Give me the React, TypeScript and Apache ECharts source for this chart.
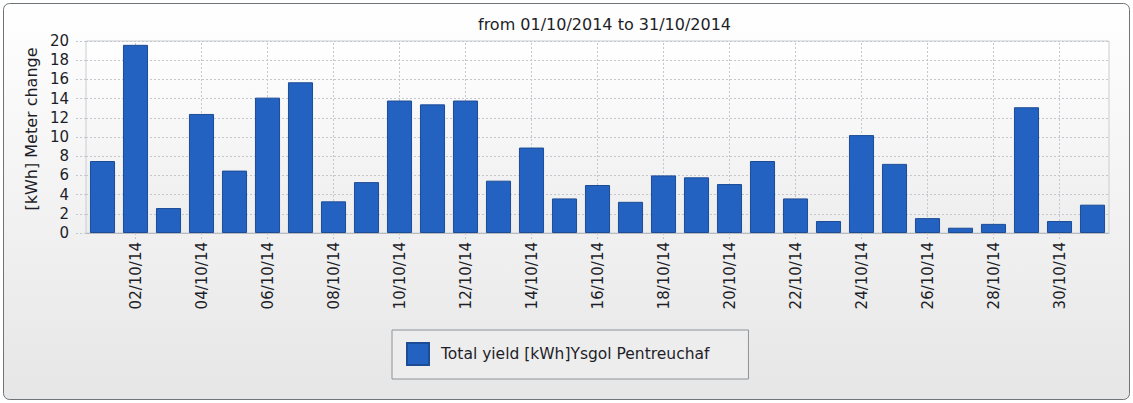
import React, { useEffect, useRef } from "react";
import * as echarts from "echarts";

const titleText = "from 01/10/2014 to 31/10/2014";
const seriesName = "Total yield [kWh]Ysgol Pentreuchaf";
const yAxisName = "[kWh] Meter change";

const categories = [
  "01/10/14", "02/10/14", "03/10/14", "04/10/14", "05/10/14", "06/10/14", "07/10/14", "08/10/14",
  "09/10/14", "10/10/14", "11/10/14", "12/10/14", "13/10/14", "14/10/14", "15/10/14", "16/10/14",
  "17/10/14", "18/10/14", "19/10/14", "20/10/14", "21/10/14", "22/10/14", "23/10/14", "24/10/14",
  "25/10/14", "26/10/14", "27/10/14", "28/10/14", "29/10/14", "30/10/14", "31/10/14",
];

const values = [
  7.5, 19.6, 2.6, 12.4, 6.5, 14.1, 15.7, 3.3,
  5.3, 13.8, 13.4, 13.8, 5.45, 8.9, 3.6, 5.0,
  3.25, 6.0, 5.8, 5.1, 7.5, 3.6, 1.25, 10.2,
  7.2, 1.55, 0.55, 0.95, 13.1, 1.25, 2.95,
];

const yMin = 0;
const yMax = 20;
const yInterval = 2;

const FONT = "DejaVu Sans";
const TEXT = "#1e1e28";
const GRID = "#c4c8cc";

const everyOther = (i: number) => i % 2 === 1;
const labelledCategories = categories.filter((_, i) => everyOther(i));

export default function App() {
  const ref = useRef<HTMLDivElement>(null);

  useEffect(() => {
    document.body.style.margin = "0";
    if (!ref.current) return;
    const chart = echarts.init(ref.current, null, { renderer: "svg" });
    chart.setOption({
      animation: false,
      backgroundColor: "transparent",
      graphic: [
        {
          type: "rect",
          z: -10,
          silent: true,
          shape: { x: 3.5, y: 3.5, width: 1126, height: 396, r: 6 },
          style: {
            fill: new echarts.graphic.LinearGradient(0, 0, 0, 1, [
              { offset: 0, color: "#ffffff" },
              { offset: 1, color: "#e6e6e6" },
            ]),
            stroke: "#6f7478",
            lineWidth: 1,
          },
        },
      ],
      title: {
        text: titleText,
        left: 478,
        top: 16,
        padding: 0,
        textStyle: { fontFamily: FONT, fontSize: 16, fontWeight: "normal", color: TEXT },
      },
      legend: {
        left: 392,
        top: 330,
        orient: "horizontal",
        padding: [12, 39, 13, 14],
        borderColor: "#8c949a",
        borderWidth: 1,
        backgroundColor: "#ededed",
        itemWidth: 22,
        itemHeight: 22,
        icon: "rect",
        textStyle: { fontFamily: FONT, fontSize: 15.5, color: TEXT, padding: [0, 0, 0, 7] },
        data: [seriesName],
      },
      grid: {
        left: 86,
        top: 41,
        right: 24,
        bottom: 170,
        show: true,
        backgroundColor: new echarts.graphic.LinearGradient(0, 0, 0, 1, [
          { offset: 0, color: "#ffffff" },
          { offset: 1, color: "#ededed" },
        ]),
        borderColor: "#c8ccd0",
        borderWidth: 1,
      },
      xAxis: {
        type: "category",
        data: categories,
        boundaryGap: true,
        axisLine: { show: true, lineStyle: { color: "#b8bcc0" } },
        axisTick: {
          show: true,
          alignWithLabel: true,
          interval: everyOther,
          length: 7,
          lineStyle: { color: GRID, type: [2, 2] },
        },
        splitLine: { show: false },
        axisLabel: {
          interval: everyOther,
          rotate: 90,
          margin: 9,
          fontFamily: FONT,
          fontSize: 15,
          color: TEXT,
        },
      },
      yAxis: {
        type: "value",
        min: yMin,
        max: yMax,
        interval: yInterval,
        name: yAxisName,
        nameLocation: "middle",
        nameGap: 45,
        nameTextStyle: { fontFamily: FONT, fontSize: 16, color: TEXT, padding: [0, 0, 0, 16] },
        axisLine: { show: false },
        axisTick: { show: true, length: 10, lineStyle: { color: GRID, type: [2, 2] } },
        splitLine: { show: true, lineStyle: { color: GRID, type: [2, 2] } },
        axisLabel: { margin: 17, fontFamily: FONT, fontSize: 15, color: TEXT },
      },
      series: [
        {
          name: "grid-lines",
          type: "line",
          data: [],
          z: 1,
          silent: true,
          markLine: {
            z: 1,
            silent: true,
            symbol: ["none", "none"],
            label: { show: false },
            lineStyle: { color: GRID, type: [2, 2], width: 1 },
            data: labelledCategories.map((c) => ({ xAxis: c })),
          },
        },
        {
          name: seriesName,
          type: "bar",
          data: values,
          z: 3,
          barCategoryGap: "24%",
          itemStyle: { color: "#2462c1", borderColor: "#1c4c96", borderWidth: 1 },
        },
      ],
    });
    return () => chart.dispose();
  }, []);

  return <div ref={ref} style={{ width: 1133, height: 403 }} />;
}
